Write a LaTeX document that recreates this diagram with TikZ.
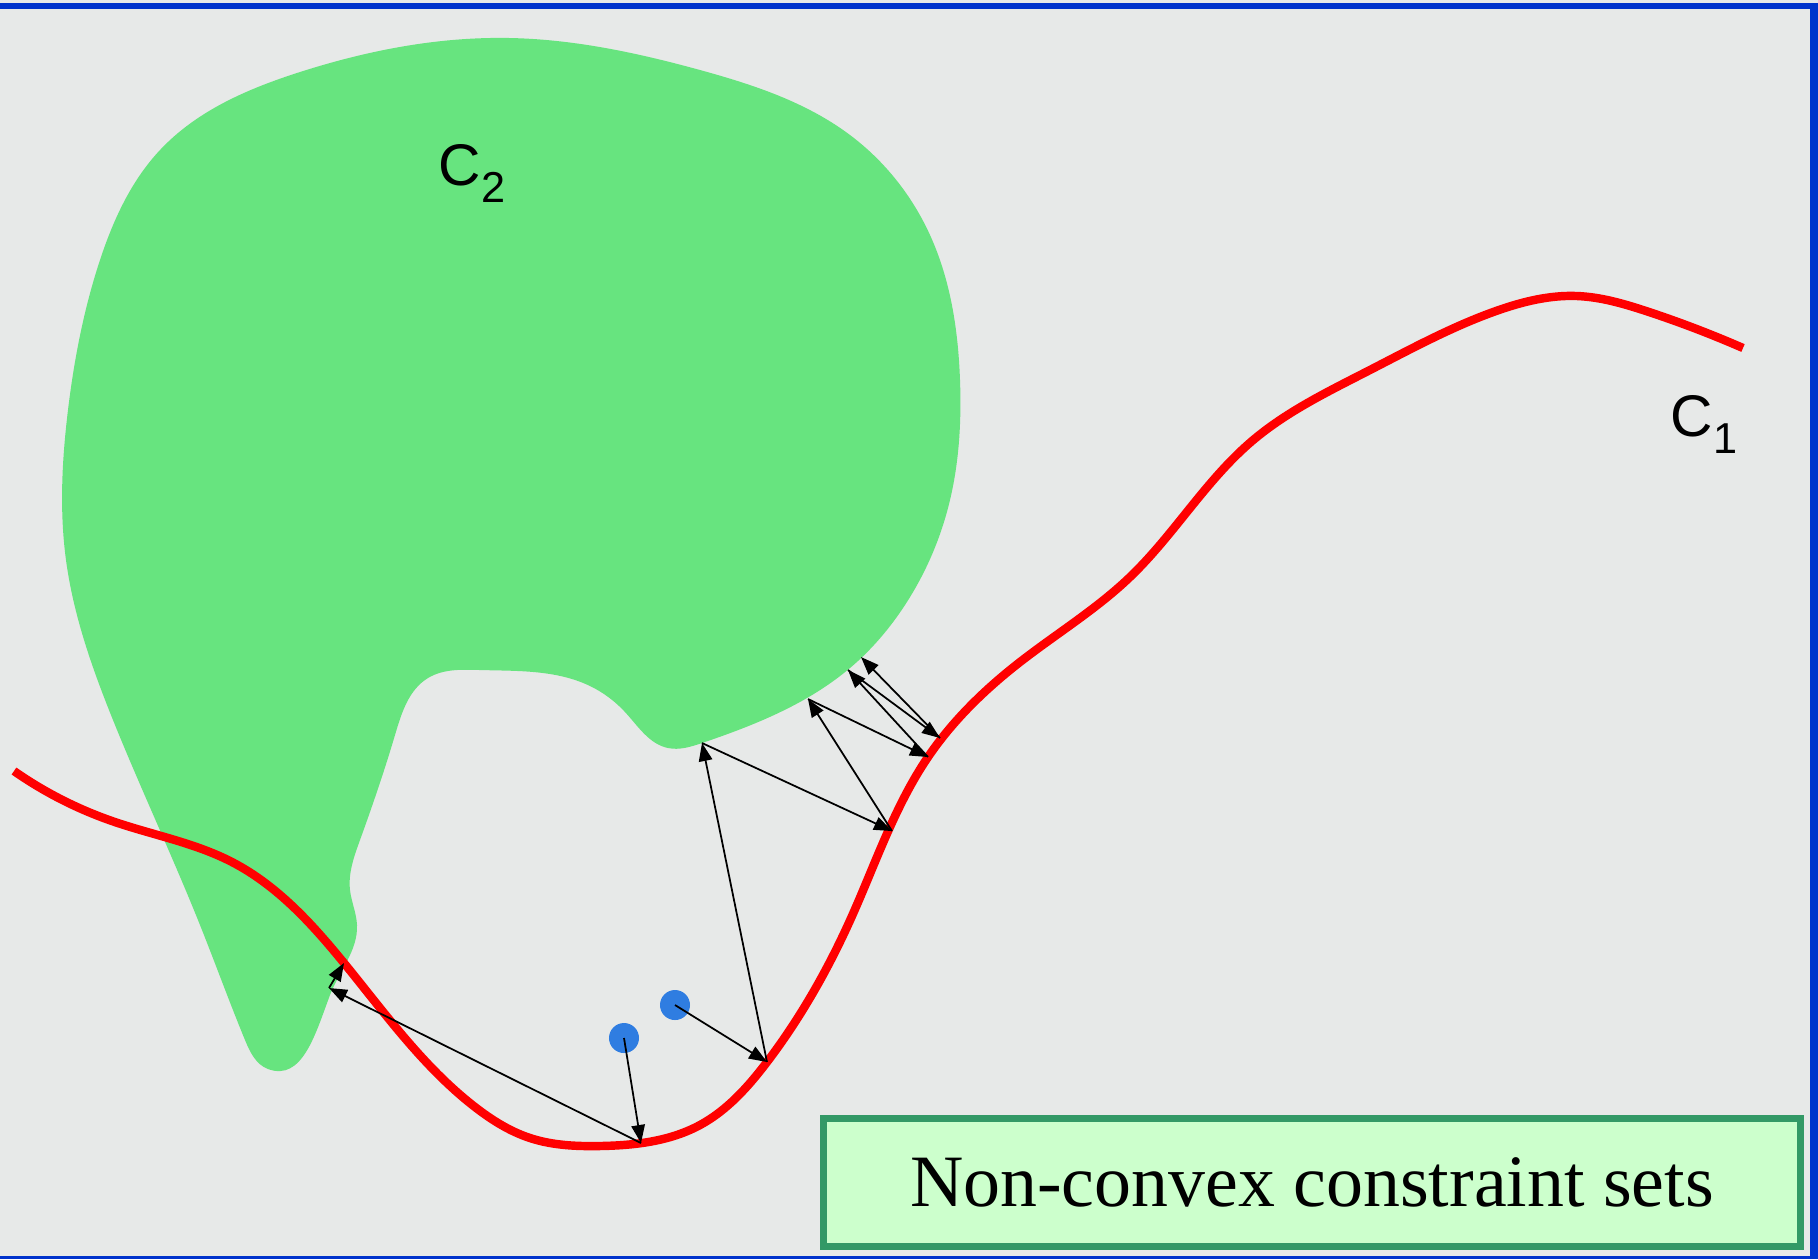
\documentclass[tikz,border=0pt]{standalone}
\usepackage{fontspec}
\setmainfont{Liberation Serif}
\newfontfamily\labelfont{Liberation Sans}
\usetikzlibrary{arrows.meta,shadows,hobby}

\definecolor{bggray}{RGB}{231,233,232}
\definecolor{setgreen}{RGB}{103,228,127}
\definecolor{frameblue}{RGB}{0,51,204}
\definecolor{boxfill}{RGB}{204,255,204}
\definecolor{boxedge}{RGB}{51,153,102}
\definecolor{dotblue}{RGB}{47,125,225}

\newcommand{\cname}[1]{C\raisebox{-5pt}{\fontsize{12.3}{14}\selectfont #1}}

\tikzset{
  proj/.style={-{Triangle[length=1.8mm,width=1.35mm]},line width=0.5pt},
  startpt/.style={circle,fill=dotblue,inner sep=0pt,minimum size=3mm},
  setlabel/.style={font=\labelfont\fontsize{16.7}{20}\selectfont,inner sep=0pt,anchor=base west},
  titlebox/.style={draw=boxedge,fill=boxfill,line width=0.7mm,
    minimum width=9.76cm,minimum height=1.27cm,
    drop shadow={shadow xshift=0.35mm,shadow yshift=-0.35mm,fill=gray,opacity=0.7},
    font=\fontsize{21}{25}\selectfont}
}

\begin{document}
\begin{tikzpicture}[x=0.01cm,y=-0.01cm]

% Background and frame
\fill[bggray] (0,0) rectangle (1818,1259);
\useasboundingbox (0,0) rectangle (1818,1259);
\fill[frameblue] (0,2.5) rectangle (1818,9);
\fill[frameblue] (1810,2.5) rectangle (1818,1259);
\fill[frameblue] (0,1255.5) rectangle (1818,1259);

% Set C2
\fill[setgreen] plot[closed hobby] coordinates {
  (510,38) (700,70) (850,135) (930,235) (960,380) (950,500)
  (905,605) (850,668) (702,743) (668,748) (625,712) (590,686)
  (480,670) (428,678) (395,735) (360,840) (350,890) (357,925)
  (330,995) (268,1069) (245,1040) (200,925) (113,720) (66,560)
  (68,410) (100,260) (160,150) (300,72)};

% Set C1
\draw[red,line width=2.4pt] plot[hobby] coordinates {
  (14,771) (112,821) (232,862) (344,963) (475,1107) (530,1138)
  (600,1146) (700,1125) (767,1062) (852,916) (928,757) (1020,662)
  (1130,577) (1252,441) (1368,371) (1496,311) (1577,296) (1646,311)
  (1743,348)};

% Labels
\node[setlabel] (c2) at (438,185) {\cname{2}};
\node[setlabel] (c1) at (1670,436) {\cname{1}};

% Points on the sets
\coordinate (kl) at (344,963);
\coordinate (k0) at (641,1143);
\coordinate (k4) at (767,1062);
\coordinate (k1) at (892,831);
\coordinate (k2) at (928,757);
\coordinate (k3) at (940,738);
\coordinate (g0) at (329,988);
\coordinate (g1) at (702,743);
\coordinate (g2) at (808,699);
\coordinate (g3) at (848,670);
\coordinate (g4) at (861,657);

% Starting points
\node[startpt] (p1) at (624,1038) {};
\node[startpt] (p2) at (675,1005) {};

% Projections
\draw[proj] (p1.center) -- (k0);
\draw[proj] (k0) -- (g0);
\draw[proj] (g0) -- (kl);
\draw[proj] (p2.center) -- (k4);
\draw[proj] (k4) -- (g1);
\draw[proj] (g1) -- (k1);
\draw[proj] (k1) -- (g2);
\draw[proj] (g2) -- (k2);
\draw[proj] (k2) -- (g3);
\draw[proj] (g3) -- (k3);
\draw[proj] (k3) -- (g4);

% Title
\node[titlebox] (title) at (1312,1182.5) {Non-convex constraint sets};

\end{tikzpicture}
\end{document}
